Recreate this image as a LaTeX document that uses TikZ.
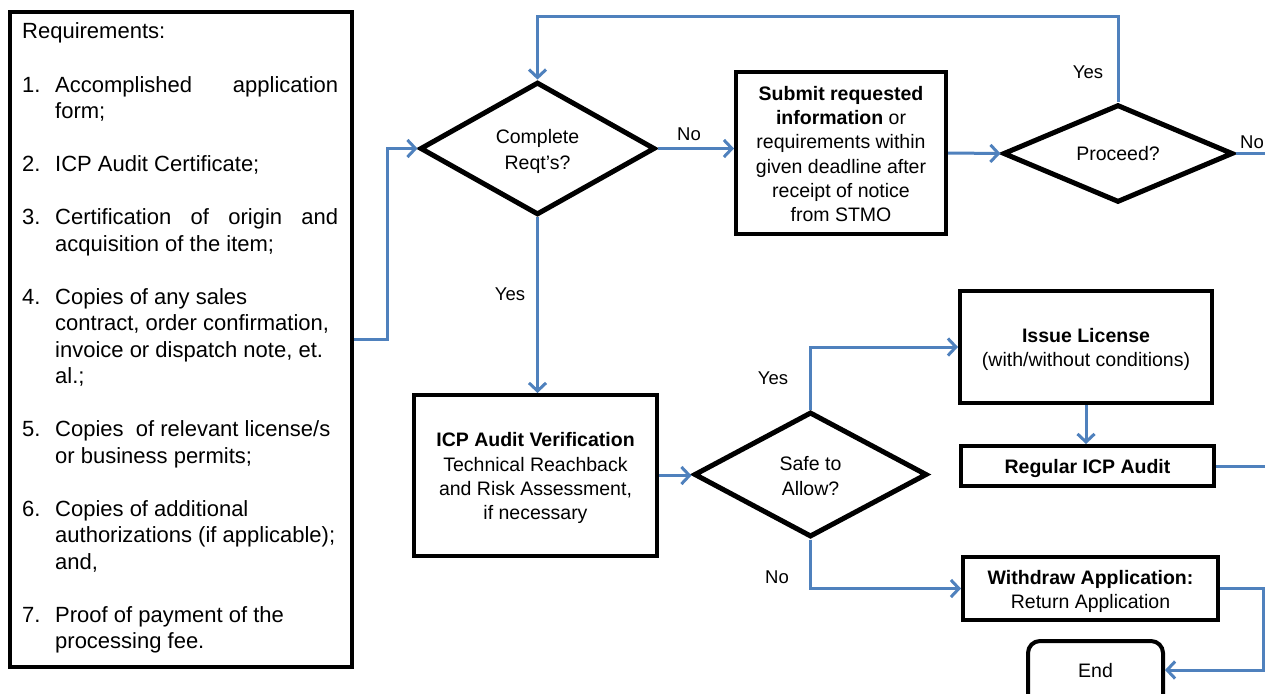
\documentclass[tikz,border=0pt]{standalone}
\usepackage{fontspec}
\setmainfont{Liberation Sans}
\usetikzlibrary{shapes.geometric,arrows.meta}
\definecolor{flowblue}{RGB}{79,129,189}
\newcommand{\bxfnt}{\fontsize{19.5}{24.3}\selectfont}
\newcommand{\lblfnt}{\fontsize{18.5}{22}\selectfont}
\newcommand{\lstfnt}{\fontsize{22}{26.5}\selectfont}
\newcommand{\tp}{\rule{0pt}{19.5pt}}
\begin{document}
\begin{tikzpicture}[x=1pt,y=-1pt,
  box/.style={draw=black, line width=4pt, rectangle, inner sep=0pt, align=center, font=\bxfnt},
  dia/.style={draw=black, line width=5pt, diamond, inner sep=0pt, align=center, font=\bxfnt},
  conn/.style={draw=flowblue, line width=3pt},
  arr/.style={conn, -{Straight Barb[length=8pt,width=17pt]}},
  lbl/.style={font=\lblfnt, inner sep=0pt},
  lst/.style={font=\lstfnt, inner sep=0pt, anchor=base west}]
\useasboundingbox (0,0) rectangle (1265,693);
\clip (0,0) rectangle (1265,693);
\fill[white] (0,0) rectangle (1265,693);

% requirements box
\node[box, minimum width=342pt, minimum height=655pt] (req) at (181,339.5) {};
\foreach \k/\xx/\t in {
  0/22/{Requirements:},
  2/22/{\makebox[33pt][l]{1.}\makebox[283pt][s]{Accomplished\hfill application}},
  3/55/{form;},
  5/22/{\makebox[33pt][l]{2.}ICP Audit Certificate;},
  7/22/{\makebox[33pt][l]{3.}\makebox[283pt][s]{Certification\hfill of\hfill origin\hfill and}},
  8/55/{acquisition of the item;},
  10/22/{\makebox[33pt][l]{4.}Copies of any sales},
  11/55/{contract, order confirmation,},
  12/55/{invoice or dispatch note, et.},
  13/55/{al.;},
  15/22/{\makebox[33pt][l]{5.}Copies\ \ of relevant license/s},
  16/55/{or business permits;},
  18/22/{\makebox[33pt][l]{6.}Copies of additional},
  19/55/{authorizations (if applicable);},
  20/55/{and,},
  22/22/{\makebox[33pt][l]{7.}Proof of payment of the},
  23/55/{processing fee.}}
  \node[lst] (reqline\k) at ({\xx},{39+26.5*\k}) {\t};

% decisions
\node[dia, minimum width=235pt, minimum height=125pt] (d1) at (537.5,148.5) {\tp Complete\\[1.5pt]Reqt’s?};
\node[dia, minimum width=230pt, minimum height=77pt] (pr) at (1118,153.5) {Proceed?};
\node[dia, minimum width=233pt, minimum height=125pt] (d2) at (810.5,474.5) {\rule{0pt}{17pt}Safe to\\Allow?};

% process boxes
\node[box, minimum width=210pt, minimum height=162pt] (sub) at (841,153)
  {\rule{0pt}{16pt}\textbf{Submit requested}\\\textbf{information} or\\requirements within\\given deadline after\\receipt of notice\\from STMO};
\node[box, minimum width=243pt, minimum height=161pt] (icp) at (535.5,475.5)
  {\tp\textbf{ICP Audit Verification}\\Technical Reachback\\and Risk Assessment,\\if necessary};
\node[box, minimum width=252pt, minimum height=112pt] (iss) at (1086,347)
  {\tp\textbf{Issue License}\\(with/without conditions)};
\node[box, minimum width=253pt, minimum height=40pt] (reg) at (1087.5,466)
  {\tp\textbf{Regular ICP Audit}};
\node[box, minimum width=255pt, minimum height=63pt] (wd) at (1090.5,588.5)
  {\tp\textbf{Withdraw Application:}\\Return Application};
\node[box, rounded corners=12pt, minimum width=135pt, minimum height=78pt] (end) at (1095.5,680) {\raisebox{20pt}{End}};

% off-page coordinates
\coordinate (topR) at (1118,17);
\coordinate (prOut) at (1265,153.5);
\coordinate (regOut) at (1265,466);
\coordinate (wdR) at (1263,588.5);
\coordinate (endIn) at (1163,670);

% connectors
\draw[arr] (req.east) -- ++(33,0) |- (d1.west);
\draw[arr] (pr.north) -- (topR) -| (d1.north);
\draw[arr] (d1.east) -- (d1.east -| sub.west);
\draw[arr] (sub.east) -- (pr.west);
\draw[conn] (pr.east) -- (prOut);
\draw[arr] (d1.south) -- (d1.south |- icp.north);
\draw[arr] (icp.east) -- (icp.east -| d2.west);
\draw[arr] (d2.north) |- (iss.west);
\draw[arr] (d2.south) |- (wd.west);
\draw[arr] (iss.south) -- (iss.south |- reg.north);
\draw[conn] (reg.east) -- (regOut);
\draw[arr] (wd.east) -- (wdR) |- (endIn -| end.east);

% labels
\node[lbl] (lNo1) at (689,134) {No};
\node[lbl] (lYes1) at (510,294) {Yes};
\node[lbl] (lYes2) at (1088,72) {Yes};
\node[lbl] (lNo2) at (1252,142) {No};
\node[lbl] (lYes3) at (773,378) {Yes};
\node[lbl] (lNo3) at (777,577) {No};
\end{tikzpicture}
\end{document}
